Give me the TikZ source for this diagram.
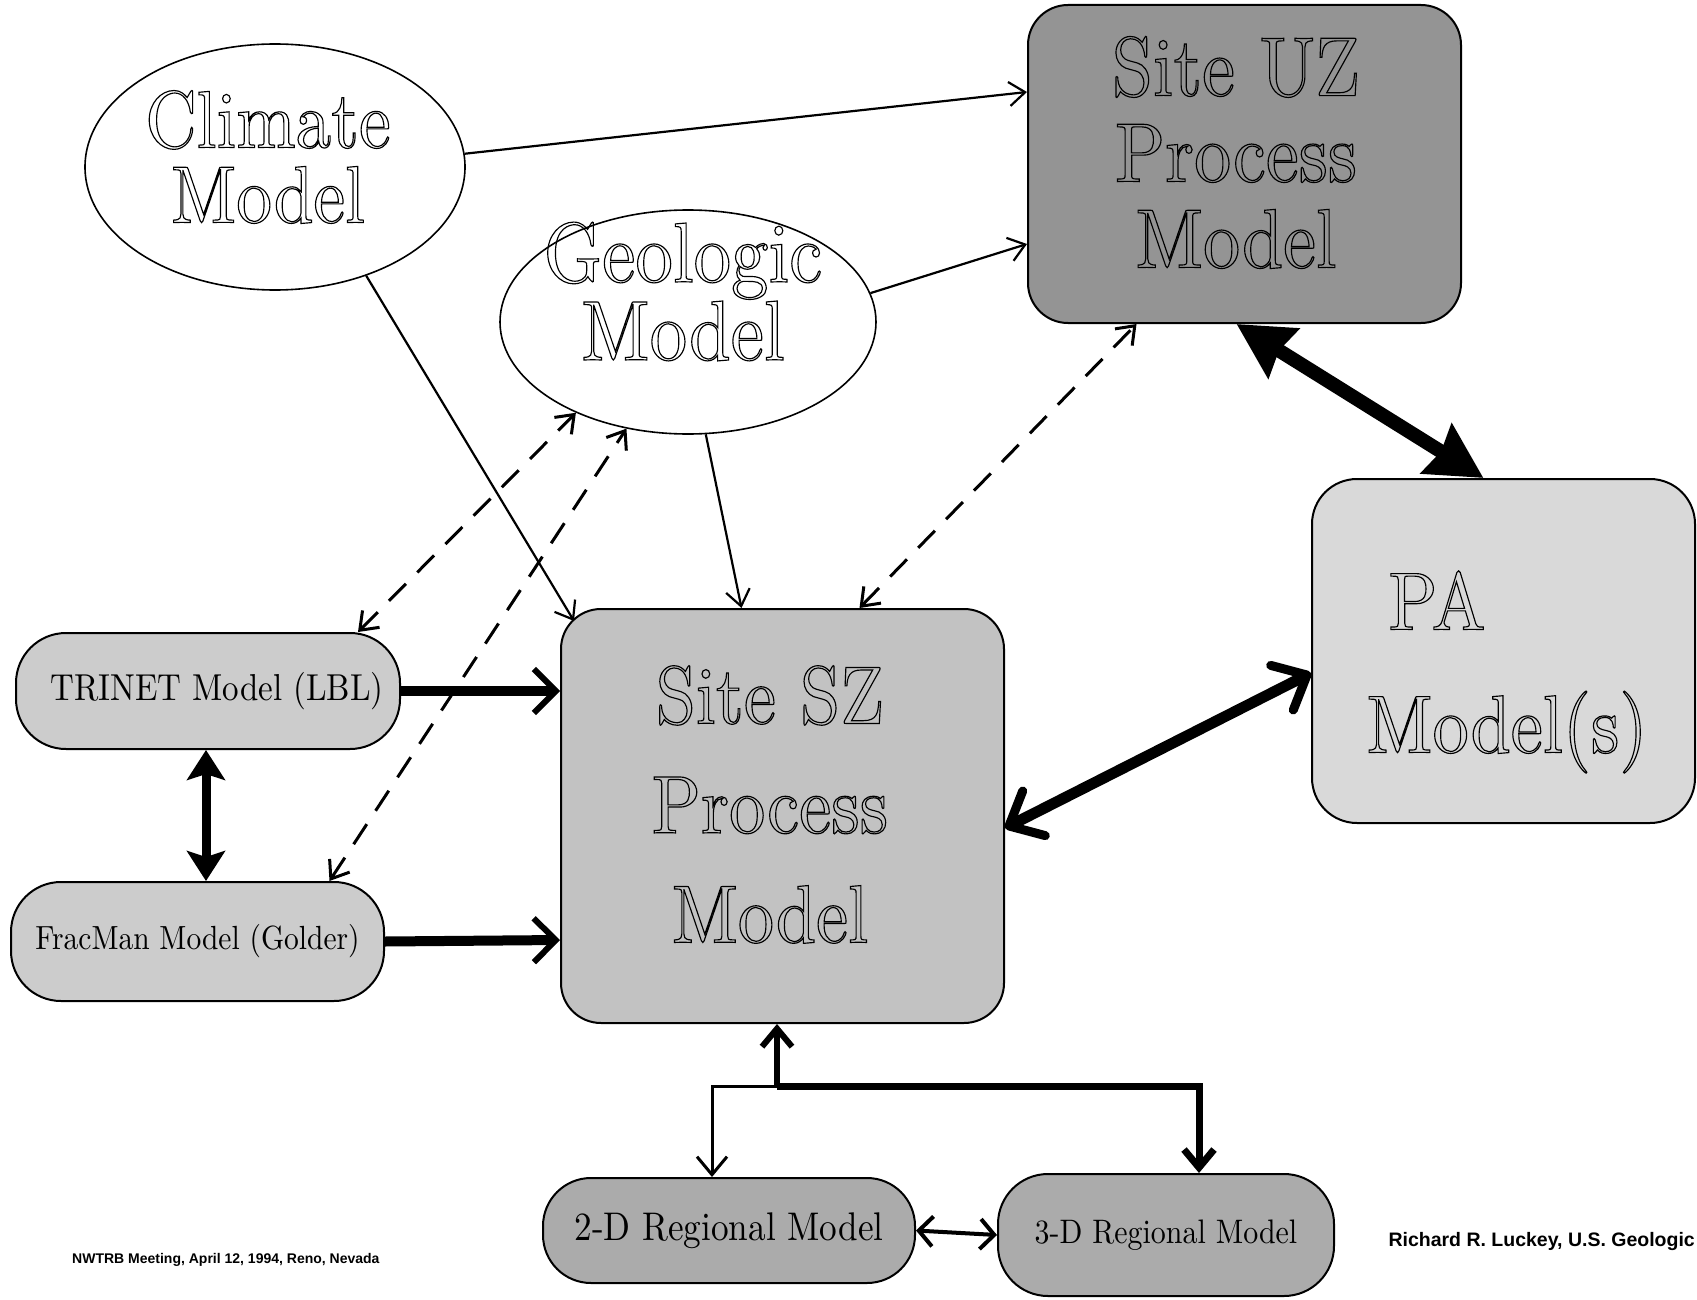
\documentclass[tikz,border=0pt]{standalone}
\usepackage{fontspec}
\newfontfamily\lblfont{lmroman10-regular}[Extension=.otf,FakeStretch=0.88]
\newfontfamily\footfont{Liberation Sans}
\usetikzlibrary{arrows.meta,shapes.geometric}
\newcommand{\hollow}[1]{\special{pdf:literal direct 1 Tr 1.15 w}#1\special{pdf:literal direct 0 Tr}}
\begin{document}
\begin{tikzpicture}[x=1pt,y=-1pt,
  shapebox/.style={draw=black,line width=2pt,rounded corners=40pt,inner sep=0pt,align=center},
  oval/.style={ellipse,draw=black,line width=1.6pt,fill=white,inner sep=0pt},
  bigtxt/.style n args={2}{font={\lblfont\fontsize{#1}{#2}\selectfont},align=center,inner sep=0pt},
  smalltxt/.style={font={\lblfont\fontsize{#1}{#1}\selectfont}},
  foot/.style={font={\footfont\bfseries\fontsize{#1}{#1}\selectfont},inner sep=0pt},
  thinarr/.style={line width=2.2pt,-{Straight Barb[length=16pt,width=24pt]}},
  dasharr/.style={line width=3pt,dash pattern=on 24pt off 16pt,
    {Straight Barb[length=16pt,width=24pt]}-{Straight Barb[length=16pt,width=24pt]}},
  thickarr/.style={line width=10pt,-{Straight Barb[length=22pt,width=44pt,line width=6pt]}},
  filldbl/.style={line width=9pt,{Stealth[length=30pt,width=38pt,inset=6pt]}-{Stealth[length=30pt,width=38pt,inset=6pt]}},
  hugedbl/.style={line width=14pt,{Stealth[length=55pt,width=57pt,inset=5pt]}-{Stealth[length=55pt,width=57pt,inset=5pt]}},
  barbdbl/.style={line width=11pt,{Straight Barb[length=28pt,width=50pt,line width=9pt,round]}-{Straight Barb[length=28pt,width=50pt,line width=9pt,round]}},
  medbl/.style={line width=4pt,{Straight Barb[length=14pt,width=30pt]}-{Straight Barb[length=14pt,width=30pt]}},
  downarr/.style={-{Straight Barb[length=18pt,width=30pt]}}
]
\useasboundingbox (0,0) rectangle (1697,1300);
\fill[white] (0,0) rectangle (1697,1300);

% shapes
\node[oval,minimum width=380pt,minimum height=246pt] (clim) at (275,167) {};
\node[oval,minimum width=376pt,minimum height=224pt] (geo) at (688,322) {};
\node[shapebox,fill=black!42,minimum width=433pt,minimum height=318pt] (uz) at (1244.5,164) {};
\node[shapebox,fill=black!24,minimum width=443pt,minimum height=414pt] (sz) at (782.5,816) {};
\node[shapebox,fill=black!15,minimum width=383pt,minimum height=344pt,rounded corners=45pt] (pa) at (1503.5,651) {};
\node[shapebox,fill=black!20,minimum width=384pt,minimum height=116pt,rounded corners=50pt,smalltxt=37.5] (trinet) at (208,691) {\hspace*{18pt}TRINET Model (LBL)};
\node[shapebox,fill=black!20,minimum width=373pt,minimum height=119pt,rounded corners=50pt,smalltxt=33.5] (fracman) at (197.5,941.5) {FracMan Model (Golder)};
\node[shapebox,fill=black!33,minimum width=372pt,minimum height=105pt,rounded corners=48pt,smalltxt=40] (reg2) at (729,1230.5) {2-D Regional Model};
\node[shapebox,fill=black!33,minimum width=336pt,minimum height=122pt,rounded corners=50pt,smalltxt=34] (reg3) at (1166,1235) {3-D Regional Model};

% big labels
\node[bigtxt={81}{75}] (climT) at (268,157) {\hollow{Climate\\Model}};
\node[bigtxt={85}{78}] (geoT) at (683,291.5) {\hollow{Geologic\\Model}};
\node[bigtxt={84}{86}] (uzT) at (1236,152.5) {\hollow{Site UZ\\Process\\Model}};
\node[bigtxt={82}{109.5}] (szT) at (770,804.5) {\hollow{Site SZ\\Process\\Model}};
\node[bigtxt={82}{123}] (paT) at (1507,672) {\hollow{PA\hspace*{140pt}\\Model(s)}};

% connectors
\draw[thinarr] (clim.4) -- ([yshift=72pt]uz.west);
\draw[thinarr] (geo.9) -- ([yshift=-80pt]uz.west);
\draw[thinarr] (clim.-50) -- ([xshift=14pt,yshift=-13pt]sz.north west);
\draw[thinarr] (geo.-81) -- ([xshift=-41pt]sz.north);

\draw[dasharr] ([xshift=77pt]sz.north) -- ([xshift=-108pt]uz.south);
\draw[dasharr] ([xshift=150pt]trinet.north) -- (geo.219);
\draw[dasharr] ([xshift=132pt]fracman.north) -- (geo.240);

\draw[thickarr] (trinet.east) -- ([yshift=125pt]sz.west);
\draw[thickarr] (fracman.east) -- ([yshift=-124pt]sz.west);

\draw[filldbl] ([xshift=-2pt]trinet.south) -- ([xshift=8.5pt]fracman.north);
\draw[hugedbl] ([xshift=-8pt]uz.south) -- ([xshift=-20pt]pa.north);
\draw[barbdbl] ([yshift=-12pt]sz.east) -- ([yshift=-22pt]pa.west);

\coordinate (j) at (777,1086);
\draw[line width=6pt,downarr] (j) -- ([xshift=-5.5pt]sz.south);
\draw[line width=7pt,downarr] (j) -| ([xshift=33pt]reg3.north);
\draw[line width=3pt,downarr] (j) -| ([xshift=-17pt]reg2.north);
\draw[medbl] (reg2.east) -- (reg3.west);

% footer
\node[foot=14,anchor=base west] (meet) at (72,1263) {NWTRB Meeting, April 12, 1994, Reno, Nevada};
\node[foot=19.5,anchor=base east] (auth) at (1695,1246) {Richard R. Luckey, U.S. Geologic};
\end{tikzpicture}
\end{document}
